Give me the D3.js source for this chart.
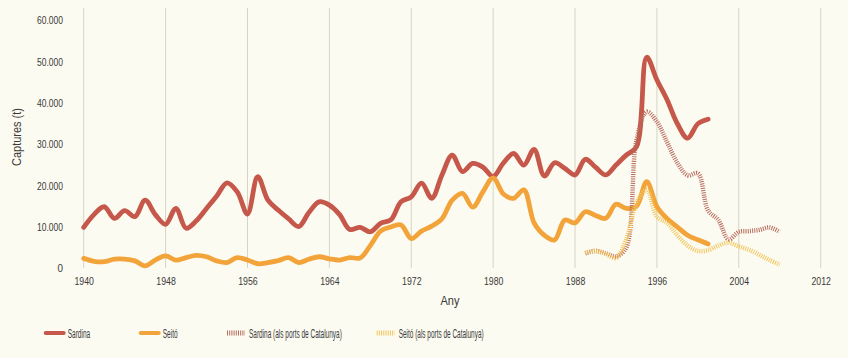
<!DOCTYPE html>
<html><head><meta charset="utf-8">
<script src="https://cdn.jsdelivr.net/npm/d3@7"></script>
<style>
html,body{margin:0;padding:0;background:#fcfbf1;}
svg{display:block;}
text{font-family:"Liberation Sans","Arimo",Arial,sans-serif;fill:#3a3a3a;}
</style></head>
<body><svg id="c" width="848" height="358"></svg>
<script>
const yearTicks = [1940,1948,1956,1964,1972,1980,1988,1996,2004,2012];
const valueTicks = [0,10000,20000,30000,40000,50000,60000];

const sardinaYears = d3.range(1940, 2002);
const sardina = [9900,13000,14900,12100,13950,12500,16500,13000,10650,14500,
  9700,11500,14500,17500,20700,18500,13150,22200,16500,14100,
  12000,10100,13500,16100,15300,13000,9400,9900,8850,10900,
  11700,16100,17300,20600,16950,22600,27400,23400,25400,24500,
  22200,25500,27800,25000,28800,22350,25550,24200,22600,26400,
  24500,22600,25000,27400,29400,51100,45600,40750,35000,31500,
  35000,36100];

const seitoYears = d3.range(1940, 2002);
const seito = [2400,1700,1600,2200,2200,1800,600,2000,3000,2000,
  2600,3150,2800,1800,1400,2600,2000,1100,1400,1850,
  2600,1400,2200,2800,2300,2000,2600,2500,5500,9000,
  10000,10500,7200,9000,10200,12000,16500,18150,14800,18500,
  21900,18000,16950,19000,11000,8000,6850,11700,11000,13700,
  12800,12100,15500,14500,15000,21000,14900,12000,10000,8000,
  6900,5900];

const catYears = d3.range(1989, 2009);
const sardinaCat = [3600,4200,3600,2900,5000,31000,37900,35500,30500,25500,
  22500,23000,14000,11700,7000,8800,9000,9300,9900,8800];
const seitoCat = [3800,4200,3500,2500,7000,15700,19000,12500,11000,8000,
  5500,4200,4400,5500,6200,5300,4500,3300,2000,900];

const seriesNames = ["Sardina","Seitó","Sardina (als ports de Catalunya)","Seitó (als ports de Catalunya)"];
const colors = ["#c5584a","#f2a43a","#b86c5e","#f2c55a"];

const svg = d3.select("#c");
const x = d3.scaleLinear().domain([1940,2012]).range([83.7,820.7]);
const y = d3.scaleLinear().domain([0,60000]).range([268.3,20.5]);

const loc = d3.formatLocale({decimal:",",thousands:".",grouping:[3],currency:["",""]});
const fmt = loc.format(",d");

// horizontally condense a text node to a target width
function squeeze(node, width, prefix) {
  const w = node.getComputedTextLength();
  const s = Math.min(1, width / w);
  node.setAttribute("transform", (prefix || "") + " scale(" + s + ",1)");
}

// vertical gridlines
svg.append("g").selectAll("line").data(yearTicks).join("line")
  .attr("x1",d=>x(d)).attr("x2",d=>x(d)).attr("y1",8).attr("y2",268)
  .attr("stroke","#d3d6c4").attr("stroke-width",1);

// x axis
const xa = svg.append("g").attr("transform","translate(0,268)")
  .call(d3.axisBottom(x).tickValues(yearTicks).tickFormat(d3.format("d")).tickSize(0).tickPadding(9));
xa.select(".domain").remove();
xa.selectAll("text").attr("font-size",11).style("font-family",null)
  .each(function(){ squeeze(this, 19.5); });

// y axis
const ya = svg.append("g").attr("transform","translate(63,0)")
  .call(d3.axisLeft(y).tickValues(valueTicks).tickFormat(fmt).tickSize(0).tickPadding(0));
ya.select(".domain").remove();
ya.selectAll("text").attr("font-size",10.5).style("font-family",null)
  .each(function(d){ squeeze(this, d===0?5.5:26); });

svg.append("text").attr("text-anchor","middle").attr("font-size",12).text("Any")
  .each(function(){ squeeze(this, 19, "translate(450,305)"); });
svg.append("text").attr("text-anchor","middle").attr("font-size",12).text("Captures (t)")
  .each(function(){ squeeze(this, 58, "translate(21,137) rotate(-90)"); });

const line = (xs) => d3.line().x((d,i)=>x(xs[i])).y(d=>y(d)).curve(d3.curveCatmullRom.alpha(0.5));

svg.append("path").datum(sardina).attr("d",line(sardinaYears))
  .attr("fill","none").attr("stroke",colors[0]).attr("stroke-width",4.8).attr("stroke-linecap","round").attr("stroke-linejoin","round");
svg.append("path").datum(seito).attr("d",line(seitoYears))
  .attr("fill","none").attr("stroke",colors[1]).attr("stroke-width",4.8).attr("stroke-linecap","round").attr("stroke-linejoin","round");
svg.append("path").datum(sardinaCat).attr("d",line(catYears))
  .attr("fill","none").attr("stroke",colors[2]).attr("stroke-width",4.5).attr("stroke-dasharray","1,1.2");
svg.append("path").datum(seitoCat).attr("d",line(catYears))
  .attr("fill","none").attr("stroke",colors[3]).attr("stroke-width",4.5).attr("stroke-dasharray","1,1.2");

// legend
const legX = [45.7,140.7,227,376.7];
const legW = [22.5,15,93,85];
const lg = svg.append("g");
seriesNames.forEach((n,i)=>{
  const l = lg.append("line").attr("x1",legX[i]).attr("x2",legX[i]+18).attr("y1",333).attr("y2",333)
    .attr("stroke",colors[i]).attr("stroke-width",i<2?4:5);
  if(i<2) l.attr("stroke-linecap","round"); else l.attr("stroke-dasharray","1,1.2");
  lg.append("text").attr("font-size",12.5).text(n)
    .each(function(){ squeeze(this, legW[i], "translate(" + (legX[i]+22) + ",337.5)"); });
});
</script></body></html>
